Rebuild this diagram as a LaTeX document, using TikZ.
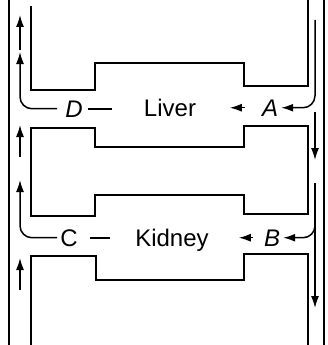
\documentclass[tikz,border=0pt]{standalone}
\usepackage{fontspec}
\setmainfont{Liberation Sans}
\usetikzlibrary{arrows.meta, positioning}
\tikzset{
    wall/.style={line width=2pt, line join=miter},
    flow/.style={line width=1.5pt, -{Latex[length=12pt, width=8pt]}},
    organ/.style={font=\fontsize{24}{28}\selectfont, inner sep=0pt, anchor=base},
    tag/.style={font=\fontsize{24}{28}\selectfont\itshape, inner sep=0pt, anchor=base}
}

\begin{document}
\begin{tikzpicture}[x=1pt, y=-1pt]
    \useasboundingbox (0,0) rectangle (327,345);

    % outer walls of the two vessels
    \draw[wall] (9,0) -- (9,345);
    \draw[wall] (324,0) -- (324,345);

    % inner walls : liver top, middle block, kidney bottom
    \draw[wall] (31,6) -- (31,90) -- (95,90) -- (95,63) -- (244,63) -- (244,86) -- (308,86) -- (308,0);
    \draw[wall] (31,128) -- (95,128) -- (95,147) -- (244,147) -- (244,126) -- (308,126) -- (308,214)
        -- (244,214) -- (244,195) -- (95,195) -- (95,216) -- (31,216) -- cycle;
    \draw[wall] (31,345) -- (31,256) -- (96,256) -- (96,280) -- (244,280) -- (244,254) -- (308,254) -- (308,345);

    % labels
    \node[organ] (liver) at (170,116) {Liver};
    \node[organ] (kidney) at (172,246) {Kidney};
    \node[tag] (a) at (270,116) {A};
    \node[tag] (d) at (74,117) {D};
    \node[tag] (b) at (272,246) {B};
    \node[organ] (c) at (69,246) {C};

    % Liver : A in, D out
    \draw[flow, rounded corners=12pt] (315,20) |- ([xshift=3pt]a.east);
    \draw[flow] ([xshift=-17pt]a.west) -- ([xshift=-32pt]a.west);
    \draw[flow] (315,112) -- (315,160);
    \draw[flow, rounded corners=12pt] ([xshift=-8pt]d.west) -| (20,52);
    \draw[flow] (20,50) -- (20,15);
    \draw[wall] ([xshift=5pt]d.east) -- ([xshift=29pt]d.east);
    \draw[flow] (20,157) -- (20,125);

    % Kidney : B in, C out
    \draw[flow] (315,183) -- (315,308);
    \draw[flow, rounded corners=12pt] (315,215) |- ([xshift=3pt]b.east);
    \draw[flow] ([xshift=-11pt]b.west) -- ([xshift=-25pt]b.west);
    \draw[flow, rounded corners=12pt] ([xshift=-3pt]c.west) -| (20,180);
    \draw[wall] ([xshift=12pt]c.east) -- ([xshift=32pt]c.east);
    \draw[flow] (20,290) -- (20,258);
\end{tikzpicture}
\end{document}
